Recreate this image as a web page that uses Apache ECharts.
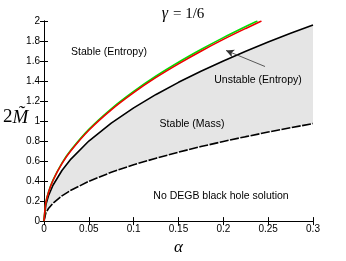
<!DOCTYPE html>
<html><head><meta charset="utf-8">
<script src="https://cdn.jsdelivr.net/npm/echarts@6/dist/echarts.min.js"></script>
<style>html,body{margin:0;padding:0;background:#fff}#c{width:346px;height:261px}</style>
</head><body><div id="c"></div>
<script>
// sample alphas (x values)
const alphas = [0, 0.002, 0.005, 0.01, 0.02, 0.03, 0.05, 0.075, 0.1, 0.125, 0.15, 0.175, 0.2, 0.225, 0.25, 0.275, 0.3];
// lower dashed boundary (no solution below)
const lowerBound = [0, 0.08, 0.126, 0.178, 0.252, 0.308, 0.398, 0.488, 0.563, 0.629, 0.689, 0.745, 0.796, 0.844, 0.89, 0.933, 0.975];
// black solid boundary (mass stability)
const massBound = [0, 0.16, 0.253, 0.358, 0.506, 0.62, 0.8, 0.98, 1.132, 1.266, 1.387, 1.497, 1.601, 1.698, 1.79, 1.877, 1.961];
// red entropy curve
const redAlphas = [0, 0.002, 0.005, 0.01, 0.02, 0.03, 0.05, 0.075, 0.1, 0.125, 0.15, 0.175, 0.2, 0.225, 0.2425];
const redCurve = [0, 0.181, 0.287, 0.406, 0.574, 0.703, 0.908, 1.112, 1.284, 1.436, 1.572, 1.698, 1.816, 1.926, 2.0];
// green entropy curve
const greenAlphas = [0, 0.002, 0.005, 0.01, 0.02, 0.03, 0.05, 0.075, 0.1, 0.125, 0.15, 0.175, 0.2, 0.225, 0.238];
const greenCurve = [0, 0.183, 0.29, 0.41, 0.58, 0.71, 0.917, 1.123, 1.296, 1.45, 1.588, 1.715, 1.834, 1.945, 2.0];
const xTicks = [0, 0.05, 0.1, 0.15, 0.2, 0.25, 0.3];
const yTicks = [0, 0.2, 0.4, 0.6, 0.8, 1, 1.2, 1.4, 1.6, 1.8, 2];

const pairs = (xs, ys) => xs.map((x, i) => [x, ys[i]]);

const chart = echarts.init(document.getElementById('c'), null, {renderer: 'canvas'});
const axisCol = '#000';
const lblStyle = {color: '#000', fontSize: 10, fontFamily: 'Liberation Sans, Arial, sans-serif'};
const xAxisBase = {type: 'value', min: 0, max: 0.3, interval: 0.05,
  axisLine: {show: true, lineStyle: {color: axisCol, width: 1}},
  axisTick: {show: true, inside: true, length: 4, lineStyle: {color: axisCol}},
  splitLine: {show: false}};
const yAxisBase = {type: 'value', min: 0, max: 2, interval: 0.2,
  axisLine: {show: true, lineStyle: {color: axisCol, width: 1}},
  axisTick: {show: true, inside: true, length: 4, lineStyle: {color: axisCol}},
  splitLine: {show: false}};

chart.setOption({
  animation: false,
  title: {text: '{g|γ} {n|= 1/6}', left: 178, top: 0, textAlign: 'center',
    textStyle: {fontWeight: 'normal', rich: {g: {fontFamily: 'Liberation Serif, serif', fontStyle: 'italic', fontWeight: 'normal', fontSize: 16, color: '#000'},
                       n: {fontFamily: 'Liberation Serif, serif', fontWeight: 'normal', fontSize: 15, color: '#000'}}}},
  grid: {left: 44, right: 33, top: 21, bottom: 29},
  xAxis: [
    Object.assign({}, xAxisBase, {position: 'bottom',
      axisLabel: Object.assign({margin: 3, formatter: v => String(+v.toFixed(2))}, lblStyle),
      name: 'α', nameLocation: 'middle', nameGap: 15,
      nameTextStyle: {fontFamily: 'Liberation Serif, serif', fontStyle: 'italic', fontSize: 17, color: '#000'}}),
    Object.assign({}, xAxisBase, {position: 'top', axisLabel: {show: false}})
  ],
  yAxis: [
    Object.assign({}, yAxisBase, {position: 'left',
      axisLabel: Object.assign({margin: 4, formatter: v => String(+v.toFixed(1))}, lblStyle)}),
    Object.assign({}, yAxisBase, {position: 'right', axisLabel: {show: false}})
  ],
  series: [
    {type: 'custom', name: 'band', data: [[0, 0]], silent: true, z: 1,
      renderItem: (params, api) => {
        const pts = [];
        alphas.forEach((a, i) => pts.push(api.coord([a, lowerBound[i]])));
        for (let i = alphas.length - 1; i >= 0; i--) pts.push(api.coord([alphas[i], massBound[i]]));
        return {type: 'polygon', shape: {points: pts}, style: {fill: '#e5e5e5', stroke: null}};
      }},
    {type: 'line', name: 'mass', data: pairs(alphas, massBound), symbol: 'none',
      lineStyle: {color: '#000', width: 1.6}, z: 3},
    {type: 'line', name: 'lower', data: pairs(alphas, lowerBound), symbol: 'none',
      lineStyle: {color: '#000', width: 1.6, type: [9, 1.5]}, z: 3},
    {type: 'line', name: 'green', data: pairs(greenAlphas, greenCurve), symbol: 'none', smooth: 0.3,
      lineStyle: {color: '#00dd00', width: 1.6}, z: 3},
    {type: 'line', name: 'red', data: pairs(redAlphas, redCurve), symbol: 'none', smooth: 0.3,
      lineStyle: {color: '#ee0000', width: 1.6}, z: 4,
      markLine: {silent: true, symbol: ['none', 'arrow'], symbolSize: [6, 8],
        label: {show: false}, lineStyle: {color: '#333', width: 0.8, type: 'solid'},
        data: [[{coord: [0.2465, 1.545]}, {coord: [0.203, 1.706]}]]}}
  ],
  graphic: [
    {type: 'text', left: 3, top: 108, style: {text: '{a|2}{b|M̃}',
      rich: {a: {fontFamily: 'Liberation Serif, serif', fontSize: 19, fill: '#000'},
             b: {fontFamily: 'Liberation Serif, serif', fontStyle: 'italic', fontSize: 19, fill: '#000'}}}},
    {type: 'text', x: 109, y: 52, style: {text: 'Stable (Entropy)', align: 'center', verticalAlign: 'middle',
      font: '10.5px "Liberation Sans", Arial, sans-serif', fill: '#000'}, z: 10},
    {type: 'text', x: 258, y: 80, style: {text: 'Unstable (Entropy)', align: 'center', verticalAlign: 'middle',
      font: '10.5px "Liberation Sans", Arial, sans-serif', fill: '#000'}, z: 10},
    {type: 'text', x: 192, y: 124, style: {text: 'Stable (Mass)', align: 'center', verticalAlign: 'middle',
      font: '10.5px "Liberation Sans", Arial, sans-serif', fill: '#000'}, z: 10},
    {type: 'text', x: 221, y: 196, style: {text: 'No DEGB black hole solution', align: 'center', verticalAlign: 'middle',
      font: '10.5px "Liberation Sans", Arial, sans-serif', fill: '#000'}, z: 10}
  ]
});
</script></body></html>
